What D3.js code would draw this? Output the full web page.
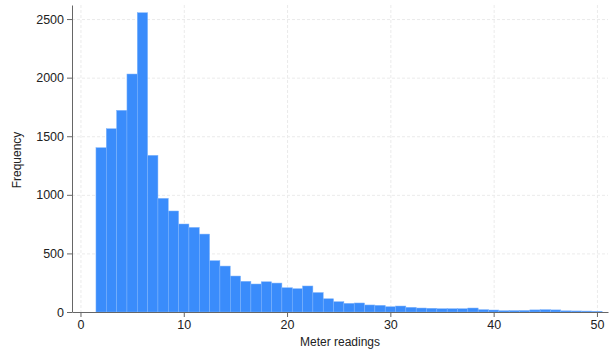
<!DOCTYPE html>
<html>
<head>
<meta charset="utf-8">
<script src="https://cdn.jsdelivr.net/npm/d3@7"></script>
<style>
  body { margin: 0; background: #fff; }
  text { font-family: "Liberation Sans", Arial, sans-serif; fill: #222; }
</style>
</head>
<body>
<div id="vis"></div>
<script>
// bin edges: width 1, starting at 1.5
var binStart = 1.5;
var binWidth = 1;
// frequency per bin
var counts = [1402, 1564, 1721, 2031, 2554, 1337, 970, 862, 751, 722,
              665, 438, 392, 307, 262, 239, 258, 247, 207, 199,
              222, 166, 113, 88, 74, 77, 60, 57, 45, 51,
              40, 34, 32, 28, 28, 28, 34, 20, 17, 11,
              12, 13, 18, 20, 18, 10, 9, 8, 6];
var xTicks = [0, 10, 20, 30, 40, 50];
var yTicks = [0, 500, 1000, 1500, 2000, 2500];

var bins = counts.map(function(c, i) {
    return {x0: binStart + i * binWidth, x1: binStart + (i + 1) * binWidth, n: c};
});

var W = 614, H = 358;
var svg = d3.select("#vis").append("svg")
    .attr("width", W)
    .attr("height", H);

// scales (range in page pixels)
var x = d3.scaleLinear().domain([-0.82, 51.07]).range([72, 608]);
var y = d3.scaleLinear().domain([0, 2620]).range([312, 5]);

// grid lines
svg.append("g").selectAll("line.h")
    .data(yTicks.slice(1))
    .enter().append("line")
    .attr("x1", x.range()[0]).attr("x2", x.range()[1])
    .attr("y1", function(d) { return y(d) + 0.5; })
    .attr("y2", function(d) { return y(d) + 0.5; })
    .attr("stroke", "#ebebeb")
    .attr("stroke-dasharray", "3,2");
svg.append("g").selectAll("line.v")
    .data(xTicks)
    .enter().append("line")
    .attr("x1", function(d) { return x(d) + 0.5; })
    .attr("x2", function(d) { return x(d) + 0.5; })
    .attr("y1", y.range()[1]).attr("y2", y.range()[0])
    .attr("stroke", "#ebebeb")
    .attr("stroke-dasharray", "3,2");

// bars
svg.append("g").selectAll("rect")
    .data(bins)
    .enter().append("rect")
    .attr("x", function(d) { return x(d.x0); })
    .attr("width", function(d) { return x(d.x1) - x(d.x0); })
    .attr("y", function(d) { return y(d.n); })
    .attr("height", function(d) { return y(0) - y(d.n); })
    .attr("fill", "#3a8cfb")
    .attr("stroke", "#7fb4fb")
    .attr("stroke-width", 0.5);

// x axis
var xAxis = svg.append("g")
    .attr("transform", "translate(0," + y(0) + ")")
    .call(d3.axisBottom(x).tickValues(xTicks).tickFormat(d3.format("d"))
        .tickSize(5).tickPadding(3).tickSizeOuter(0));

// y axis
var yAxis = svg.append("g")
    .attr("transform", "translate(" + x.range()[0] + ",0)")
    .call(d3.axisLeft(y).tickValues(yTicks).tickFormat(d3.format("d"))
        .tickSize(5).tickPadding(3).tickSizeOuter(0));

[xAxis, yAxis].forEach(function(a) {
    a.select(".domain").attr("stroke", "#666");
    a.selectAll(".tick line").attr("stroke", "#666");
    a.selectAll(".tick text")
        .style("font-family", "Liberation Sans, Arial, sans-serif")
        .style("font-size", "12.5px")
        .attr("fill", "#222");
});

// axis titles
svg.append("text")
    .attr("x", 340)
    .attr("y", 346)
    .attr("text-anchor", "middle")
    .style("font-size", "12px")
    .text("Meter readings");

svg.append("text")
    .attr("transform", "translate(21,160) rotate(-90)")
    .attr("text-anchor", "middle")
    .style("font-size", "12px")
    .text("Frequency");
</script>
</body>
</html>
